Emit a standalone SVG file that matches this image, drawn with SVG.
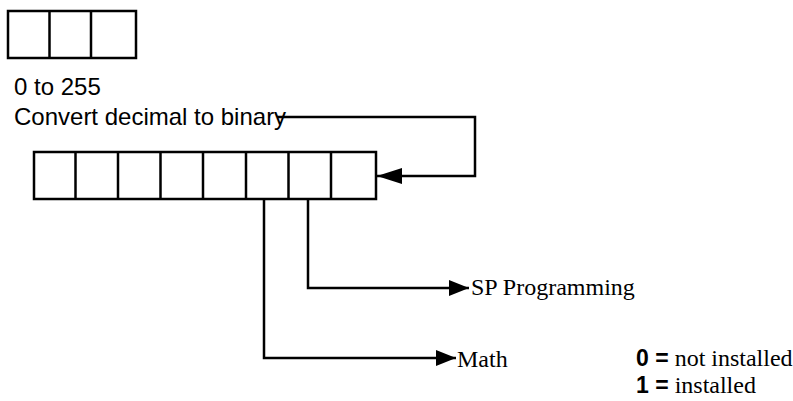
<svg xmlns="http://www.w3.org/2000/svg" width="793" height="401" viewBox="0 0 793 401">
  <style>
    .box { fill: #ffffff; stroke: #000000; stroke-width: 2.5; }
    .div { stroke: #000000; stroke-width: 2.5; fill: none; }
    .conn { stroke: #000000; stroke-width: 2.5; fill: none; }
    .sans { font-family: "Liberation Sans", Arial, sans-serif; font-size: 24px; fill: #000000; }
    .serif { font-family: "Liberation Serif", "Times New Roman", serif; font-size: 24px; fill: #000000; }
    .bold { font-family: "Liberation Sans", Arial, sans-serif; font-weight: bold; fill: #000000; }
  </style>
  <defs>
    <marker id="arrowBig" viewBox="0 0 25 16" refX="25" refY="8" markerWidth="25" markerHeight="16" markerUnits="userSpaceOnUse" orient="auto">
      <path d="M0,0 L25,8 L0,16 Z" fill="#000000"/>
    </marker>
    <marker id="arrowSmall" viewBox="0 0 20 16" refX="20" refY="8" markerWidth="20" markerHeight="16" markerUnits="userSpaceOnUse" orient="auto">
      <path d="M0,0 L20,8 L0,16 Z" fill="#000000"/>
    </marker>
  </defs>

  <g id="input-box">
    <rect class="box" x="8" y="11" width="128" height="47"/>
    <line class="div" x1="49.5" y1="11" x2="49.5" y2="58"/>
    <line class="div" x1="91" y1="11" x2="91" y2="58"/>
  </g>

  <g id="input-label">
    <text class="sans" x="14" y="95">0 to 255</text>
    <text class="sans" x="14" y="125">Convert decimal to binary</text>
  </g>

  <g id="binary-box">
    <rect class="box" x="34" y="152" width="342" height="47"/>
    <line class="div" x1="75.5" y1="152" x2="75.5" y2="199"/>
    <line class="div" x1="118" y1="152" x2="118" y2="199"/>
    <line class="div" x1="160.5" y1="152" x2="160.5" y2="199"/>
    <line class="div" x1="203" y1="152" x2="203" y2="199"/>
    <line class="div" x1="246" y1="152" x2="246" y2="199"/>
    <line class="div" x1="288.5" y1="152" x2="288.5" y2="199"/>
    <line class="div" x1="331" y1="152" x2="331" y2="199"/>
  </g>

  <g id="sp-programming">
    <text class="serif" x="471" y="295">SP Programming</text>
  </g>

  <g id="math">
    <text class="serif" x="457" y="367">Math</text>
  </g>

  <g id="legend">
    <text x="636" y="366" font-size="23"><tspan class="bold">0 =</tspan><tspan class="serif" font-size="23"> not installed</tspan></text>
    <text x="636" y="393" font-size="23"><tspan class="bold">1 =</tspan><tspan class="serif" font-size="23"> installed</tspan></text>
  </g>

  <g id="connectors">
    <polyline class="conn" points="277,117 475,117 475,176 377,176" marker-end="url(#arrowBig)"/>
    <polyline class="conn" points="308,199 308,288 469,288" marker-end="url(#arrowSmall)"/>
    <polyline class="conn" points="264,199 264,358 456,358" marker-end="url(#arrowSmall)"/>
  </g>
</svg>
